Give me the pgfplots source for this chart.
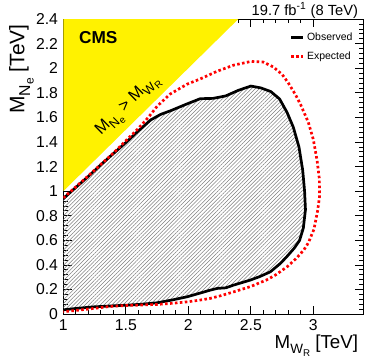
\documentclass[border=0pt]{standalone}
\usepackage{fontspec}
\setmainfont{Liberation Sans}
\usepackage{pgfplots}
\usepackage{pgfplotstable}
\pgfplotsset{compat=1.18}
\usetikzlibrary{patterns.meta}

% nested subscript: \nsub{size1}{text1}{size2}{text2}
\newcommand{\nsub}[4]{\raisebox{-0.28em}{\fontsize{#1}{#1}\selectfont #2\raisebox{-0.22em}{\fontsize{#3}{#3}\selectfont #4}}}

% observed limit contour (closed along the left edge)
\pgfplotstableread{
x y
1.000 0.940
1.100 1.030
1.200 1.120
1.300 1.215
1.400 1.305
1.500 1.395
1.600 1.490
1.700 1.580
1.780 1.625
1.860 1.655
1.990 1.710
2.095 1.752
2.200 1.755
2.300 1.775
2.400 1.820
2.500 1.855
2.580 1.840
2.660 1.810
2.730 1.750
2.790 1.640
2.840 1.520
2.885 1.360
2.915 1.170
2.930 1.000
2.937 0.850
2.920 0.700
2.890 0.600
2.850 0.540
2.790 0.470
2.737 0.413
2.656 0.344
2.570 0.305
2.496 0.277
2.362 0.236
2.300 0.214
2.230 0.209
2.175 0.195
2.097 0.172
1.990 0.141
1.870 0.115
1.750 0.092
1.620 0.080
1.510 0.073
1.370 0.066
1.240 0.059
1.100 0.046
1.000 0.035
}\obsdata

% expected limit contour
\pgfplotstableread{
x y
1.000 0.945
1.200 1.125
1.400 1.310
1.600 1.510
1.680 1.600
1.750 1.690
1.855 1.790
1.990 1.870
2.100 1.915
2.230 1.975
2.362 2.025
2.500 2.055
2.600 2.050
2.680 2.010
2.750 1.950
2.800 1.880
2.860 1.780
2.900 1.700
2.960 1.560
3.000 1.420
3.030 1.250
3.048 1.100
3.050 0.960
3.035 0.846
3.005 0.690
2.960 0.580
2.923 0.520
2.860 0.450
2.790 0.385
2.700 0.320
2.630 0.280
2.500 0.225
2.362 0.181
2.260 0.150
2.175 0.128
2.080 0.112
1.990 0.100
1.870 0.088
1.750 0.079
1.620 0.074
1.500 0.070
1.370 0.062
1.240 0.046
1.100 0.030
1.000 0.020
}\expdata

\begin{document}
\begin{tikzpicture}
\begin{axis}[
  scale only axis, width=200pt, height=196.7pt,
  xmin=1, xmax=3.4, ymin=0, ymax=2.4,
  clip mode=individual,
  xtick={1,1.5,2,2.5,3},
  ytick={0,0.2,0.4,0.6,0.8,1,1.2,1.4,1.6,1.8,2,2.2,2.4},
  minor tick num=4,
  tick align=inside, tick pos=both,
  major tick length=5.5pt, minor tick length=2.8pt,
  every tick/.style={black, line width=0.5pt},
  axis line style={line width=0.6pt},
  /pgf/number format/assume math mode=true,
  tick label style={font=\fontsize{10.5}{12}\selectfont},
  legend style={at={(rel axis cs:1,1)}, anchor=north east, xshift=-4pt, yshift=-6pt,
    draw=none, fill=none, inner sep=1pt, row sep=2pt,
    font=\fontsize{7}{8}\selectfont},
  legend cell align=left,
  legend image code/.code={\draw[#1] (0pt,0pt) -- (7.5pt,0pt);},
]
\addplot[draw=none, fill=yellow, forget plot] coordinates {(1,1) (1,2.4) (2.4,2.4)} -- cycle;
\addplot[draw=none, pattern={Lines[angle=45, distance=1.8pt, line width=0.35pt]},
  pattern color=black!50, forget plot] table {\obsdata} -- cycle;
\addplot[black, line width=1.8pt, line join=round] table {\obsdata};
\addlegendentry{Observed}
\addplot[red, line width=1.8pt, dash pattern=on 1.7pt off 1.6pt] table {\expdata};
\addlegendentry{Expected}

\node[rotate=44.5, font=\fontsize{11}{13}\selectfont] at (axis cs:1.52,1.69)
  {M\nsub{8.5}{N}{6.5}{e} > M\nsub{8.5}{W}{6.5}{R}};
\node[anchor=base west, font=\bfseries\fontsize{11.5}{13}\selectfont]
  at ([xshift=7pt, yshift=-16.2pt]rel axis cs:0,1) {CMS};
\node[anchor=base east, font=\fontsize{9.8}{11}\selectfont]
  at ([yshift=2.4pt]rel axis cs:1,1) {19.7 fb\textsuperscript{-1} (8 TeV)};
\node[anchor=base east, font=\fontsize{12.5}{14}\selectfont]
  at ([yshift=-22.7pt]rel axis cs:1,0) {M\nsub{9}{W}{6.5}{R} [TeV]};
\node[anchor=base east, rotate=90, font=\fontsize{14}{16}\selectfont]
  at ([xshift=-26pt]rel axis cs:0,1) {M\nsub{10.5}{N}{8}{e} [TeV]};
\coordinate (ll) at (rel axis cs:0,0);
\coordinate (ur) at (rel axis cs:1,1);
\end{axis}
\pgfresetboundingbox
\path[use as bounding box] ([xshift=-42.2pt, yshift=-32.7pt]ll) rectangle ([xshift=7.1pt, yshift=12.7pt]ur);
\end{tikzpicture}
\end{document}
